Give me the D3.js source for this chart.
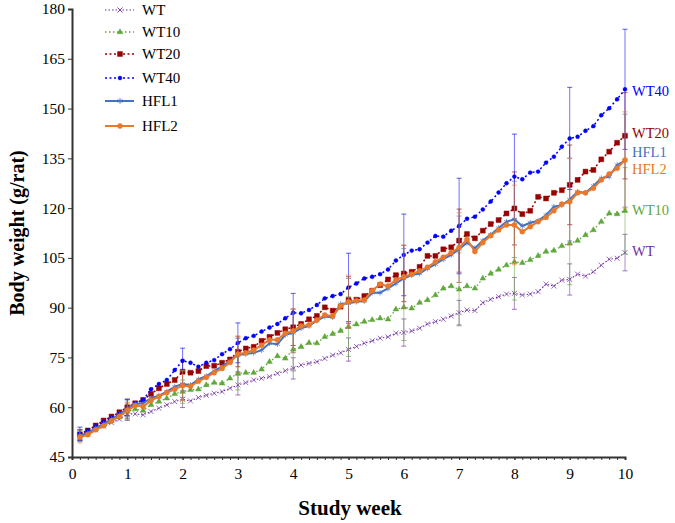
<!DOCTYPE html>
<html>
<head>
<meta charset="utf-8">
<script src="https://cdn.jsdelivr.net/npm/d3@7"></script>
<style>
  body { margin: 0; background: #fff; }
  svg { display: block; }
  svg text { font-family: "Liberation Serif", "Times New Roman", serif; }
</style>
</head>
<body>
<svg id="chart" width="675" height="523"></svg>
<script>
// series names (legend order) and daily body weights, day 1..70
const seriesNames = ["WT", "WT10", "WT20", "WT40", "HFL1", "HFL2"];

const wt = [51.3, 52.0, 53.2, 54.3, 55.3, 56.4, 58.0,
  58.0, 57.7, 58.7, 59.7, 60.7, 61.7, 62.4,
  61.9, 62.9, 63.6, 64.2, 64.7, 65.7, 66.7,
  67.4, 68.2, 68.7, 69.2, 70.2, 71.0, 71.7,
  72.7, 73.2, 73.7, 74.7, 75.7, 76.4, 77.4,
  78.3, 79.3, 80.0, 80.8, 81.2, 82.3, 82.5,
  83.0, 83.8, 85.1, 85.8, 86.5, 87.5, 88.5,
  89.3, 89.1, 91.5, 92.5, 93.3, 94.1, 94.3,
  93.8, 94.1, 94.8, 97.1, 96.5, 98.3, 98.5,
  100.1, 99.5, 100.8, 102.8, 104.6, 104.9, 106.6];

const wt10 = [51.5, 52.3, 53.5, 54.7, 55.8, 57.0, 58.7,
  59.4, 59.0, 60.7, 61.7, 62.7, 64.0, 64.7,
  65.2, 65.4, 66.7, 67.4, 67.2, 68.7, 70.2,
  70.4, 70.4, 71.4, 73.7, 75.4, 74.7, 77.4,
  78.2, 79.4, 79.3, 81.2, 82.1, 83.0, 84.3,
  85.0, 85.8, 86.3, 86.8, 86.5, 89.5, 90.1,
  89.8, 91.5, 92.3, 93.8, 95.8, 96.5, 95.5,
  96.5, 95.8, 98.8, 100.3, 101.5, 102.8, 103.8,
  103.5, 104.4, 105.6, 106.9, 107.2, 108.6, 109.4,
  110.2, 111.9, 113.4, 115.9, 118.4, 118.2, 119.2];

const wt20 = [51.8, 53.0, 54.5, 56.0, 57.2, 58.5, 60.0,
  61.2, 62.2, 64.0, 65.7, 67.0, 68.2, 70.7,
  70.4, 70.9, 72.4, 72.5, 73.4, 74.4, 76.7,
  77.7, 78.2, 80.0, 81.2, 82.4, 83.5, 84.1,
  85.1, 86.5, 87.5, 90.1, 89.1, 90.3, 92.3,
  92.4, 93.5, 95.1, 96.8, 98.5, 99.8, 100.3,
  100.8, 102.3, 105.6, 105.6, 107.6, 108.2, 110.2,
  112.2, 110.9, 113.2, 115.2, 116.4, 118.4, 119.9,
  118.2, 119.2, 123.4, 122.9, 124.6, 125.4, 127.0,
  128.5, 131.0, 131.5, 134.7, 137.0, 139.7, 141.8];

const wt40 = [52.0, 53.0, 54.3, 55.5, 56.8, 58.0, 59.5,
  61.2, 62.2, 65.4, 67.0, 68.2, 71.2, 74.0,
  73.4, 72.2, 73.4, 74.2, 76.0, 77.5, 79.4,
  80.8, 81.5, 82.8, 84.0, 85.1, 86.8, 88.5,
  88.3, 89.3, 90.8, 92.8, 93.5, 94.1, 96.1,
  97.3, 98.8, 99.3, 100.1, 101.5, 104.2, 105.9,
  107.2, 107.6, 109.6, 111.6, 111.4, 113.2, 114.6,
  116.8, 117.4, 119.6, 122.0, 124.7, 127.5, 129.5,
  128.7, 130.7, 131.0, 133.7, 135.5, 138.5, 141.0,
  141.5, 143.3, 144.7, 148.0, 150.1, 152.8, 155.8];

const hfl1 = [51.5, 52.3, 53.7, 55.0, 56.4, 57.8, 59.7,
  61.0, 61.2, 62.7, 63.5, 64.7, 66.2, 67.0,
  66.7, 68.4, 69.4, 70.9, 72.3, 74.0, 75.7,
  76.0, 76.4, 77.2, 79.3, 79.0, 81.8, 82.4,
  83.8, 84.5, 86.1, 87.3, 87.1, 91.1, 91.3,
  91.8, 92.0, 94.5, 94.5, 95.8, 97.3, 98.8,
  99.8, 100.3, 101.8, 103.1, 104.6, 105.9, 107.6,
  109.6, 107.9, 110.2, 112.0, 114.0, 115.9, 116.6,
  114.6, 115.6, 116.2, 117.9, 120.4, 120.9, 122.6,
  124.9, 124.6, 126.7, 129.0, 129.5, 133.0, 134.3];

const hfl2 = [51.0, 51.7, 53.2, 54.4, 55.9, 57.2, 59.0,
  60.5, 60.2, 62.0, 63.2, 64.4, 65.4, 66.5,
  66.3, 67.8, 69.0, 70.4, 71.7, 73.5, 76.0,
  76.4, 77.2, 78.7, 80.3, 80.3, 82.3, 83.0,
  84.5, 84.8, 86.3, 87.8, 87.5, 90.5, 91.8,
  92.1, 92.3, 95.1, 97.1, 96.5, 98.3, 99.3,
  100.1, 101.1, 102.2, 103.8, 105.2, 106.6, 108.1,
  110.6, 106.9, 109.6, 111.7, 113.4, 114.9, 114.9,
  112.9, 114.4, 115.9, 117.2, 119.2, 121.2, 121.9,
  124.6, 124.6, 126.0, 128.5, 130.3, 132.0, 134.5];

// error bars (SD) at days 1, 7, 14, ..., 70
const errDays = [1, 7, 14, 21, 28, 35, 42, 49, 56, 63, 70];
const wtSd   = [1.5, 2.0, 2.5, 3.0, 3.2, 3.5, 4.1, 3.7, 4.8, 4.7, 5.5];
const wt10Sd = [1.5, 2.5, 3.5, 5.0, 6.5, 9.0, 10.0, 11.0, 11.5, 12.5, 13.0];
const wt20Sd = [1.5, 2.5, 3.5, 4.5, 5.5, 7.0, 8.5, 9.5, 11.0, 12.0, 13.0];
const wt40Sd = [2.0, 2.8, 3.8, 6.0, 5.8, 10.3, 12.3, 14.4, 12.8, 15.4, 18.1];
const hfl1Sd = [1.8, 2.5, 4.0, 5.0, 6.0, 7.5, 9.0, 10.0, 11.5, 12.5, 14.0];
const hfl2Sd = [1.8, 2.5, 4.5, 5.5, 6.5, 8.0, 9.5, 10.5, 12.0, 13.0, 14.5];

const yTicks = [45, 60, 75, 90, 105, 120, 135, 150, 165, 180];
const xTicks = [0, 1, 2, 3, 4, 5, 6, 7, 8, 9, 10];

// styles per series
const styles = [
  {color: "#7030A0", dash: "1.5,2", width: 1.1, sym: d3.symbolTimes, size: 18, fill: false},
  {color: "#5FA83A", dash: "1.5,2.5", width: 1.3, sym: d3.symbolTriangle, size: 14, fill: true},
  {color: "#990000", dash: "2,2.5", width: 1.5, sym: d3.symbolSquare, size: 24, fill: true},
  {color: "#0000FF", dash: "2,2.5", width: 1.5, sym: d3.symbolCircle, size: 12, fill: true},
  {color: "#4472C4", dash: null, width: 2, sym: d3.symbolAsterisk, size: 22, fill: false},
  {color: "#E8782A", dash: null, width: 2, sym: d3.symbolCircle, size: 20, fill: true}
];
const values = [wt, wt10, wt20, wt40, hfl1, hfl2];
const sds = [wtSd, wt10Sd, wt20Sd, wt40Sd, hfl1Sd, hfl2Sd];
const endLabelY = [251, 210, 133, 91, 152, 169];
const legendY = [10, 32, 54, 78, 101, 126];

const svg = d3.select("#chart");
const x = d3.scaleLinear().domain([0, 10]).range([72, 625]);
const y = d3.scaleLinear().domain([45, 180]).range([457, 9]);

// axes
const yAxis = svg.append("g")
  .attr("transform", "translate(72,0)")
  .call(d3.axisLeft(y).tickValues(yTicks).tickSize(4).tickPadding(3));
yAxis.attr("font-family", null);
yAxis.select(".domain").attr("stroke", "#333").attr("stroke-width", 2);
yAxis.selectAll(".tick line").attr("stroke", "#333");
yAxis.selectAll("text").style("font-size", "15.5px").attr("fill", "#000");

const dayTicks = d3.range(0, 71).map(d => d / 7);
const xMinor = svg.append("g")
  .attr("transform", "translate(0,457)")
  .call(d3.axisBottom(x).tickValues(dayTicks).tickSize(3).tickFormat(""));
xMinor.select(".domain").remove();
xMinor.selectAll(".tick line").attr("stroke", "#333");

const xAxis = svg.append("g")
  .attr("transform", "translate(0,457)")
  .call(d3.axisBottom(x).tickValues(xTicks).tickSize(3).tickPadding(8));
xAxis.attr("font-family", null);
xAxis.select(".domain").attr("stroke", "#333").attr("stroke-width", 2);
xAxis.selectAll(".tick line").attr("stroke", "#333");
xAxis.selectAll("text").style("font-size", "15.5px").attr("fill", "#000");

// axis titles
svg.append("text")
  .attr("transform", "translate(24,233) rotate(-90)")
  .attr("text-anchor", "middle")
  .style("font-size", "20px").style("font-weight", "bold")
  .text("Body weight (g/rat)");
svg.append("text")
  .attr("x", 350).attr("y", 515)
  .attr("text-anchor", "middle")
  .style("font-size", "21px").style("font-weight", "bold")
  .text("Study week");

const line = d3.line().x((d, i) => x((i + 1) / 7)).y(d => y(d));

function symbolPath(st) {
  return d3.symbol().type(st.sym).size(st.size)();
}

values.forEach((vals, s) => {
  const st = styles[s];
  const g = svg.append("g");

  // error bars
  const eb = g.selectAll(".eb").data(errDays).enter().append("g");
  eb.append("line")
    .attr("x1", d => x(d / 7)).attr("x2", d => x(d / 7))
    .attr("y1", (d, i) => y(vals[d - 1] + sds[s][i]))
    .attr("y2", (d, i) => y(vals[d - 1] - sds[s][i]))
    .attr("stroke", st.color).attr("stroke-opacity", 0.55).attr("stroke-width", 1);
  [1, -1].forEach(sign => {
    eb.append("line")
      .attr("x1", d => x(d / 7) - 2.5).attr("x2", d => x(d / 7) + 2.5)
      .attr("y1", (d, i) => y(vals[d - 1] + sign * sds[s][i]))
      .attr("y2", (d, i) => y(vals[d - 1] + sign * sds[s][i]))
      .attr("stroke", st.color).attr("stroke-opacity", 0.65).attr("stroke-width", 1);
  });

  g.append("path")
    .datum(vals)
    .attr("d", line)
    .attr("fill", "none")
    .attr("stroke", st.color)
    .attr("stroke-width", st.width)
    .attr("stroke-dasharray", st.dash);

  g.selectAll(".m").data(vals).enter().append("path")
    .attr("transform", (d, i) => "translate(" + x((i + 1) / 7) + "," + y(d) + ")")
    .attr("d", symbolPath(st))
    .attr("fill", st.fill ? st.color : "none")
    .attr("stroke", st.color)
    .attr("stroke-width", st.fill ? 0.5 : 0.9)
    .attr("stroke-opacity", st.fill ? 1 : 0.8);

  // end label
  svg.append("text")
    .attr("x", 632).attr("y", endLabelY[s])
    .attr("dy", "0.35em")
    .style("font-size", "14.5px")
    .attr("fill", st.color)
    .text(seriesNames[s]);

  // legend row
  const lg = svg.append("g").attr("transform", "translate(0," + legendY[s] + ")");
  lg.append("line")
    .attr("x1", 105).attr("x2", 134)
    .attr("stroke", st.color).attr("stroke-width", st.width)
    .attr("stroke-dasharray", st.dash);
  lg.append("path")
    .attr("transform", "translate(120,0)")
    .attr("d", symbolPath(st))
    .attr("fill", st.fill ? st.color : "none")
    .attr("stroke", st.color)
    .attr("stroke-width", st.fill ? 0.5 : 0.9);
  lg.append("text")
    .attr("x", 142).attr("dy", "0.35em")
    .style("font-size", "15px")
    .text(seriesNames[s]);
});
</script>
</body>
</html>
